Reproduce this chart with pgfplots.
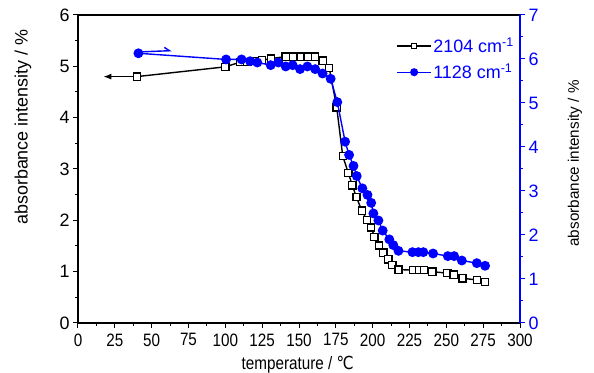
\documentclass[border=0pt]{standalone}
\usepackage{pgfplots}
\pgfplotsset{compat=1.18}
\usepackage{fontspec}
\setmainfont{Liberation Sans}
\newfontfamily\narrowfont{Liberation Sans}[FakeStretch=0.85]
\newfontfamily\dejavu{DejaVu Sans}[FakeStretch=0.85]
\usetikzlibrary{arrows.meta}

\pgfplotstableread{
T L
40 4.80
100 4.99
110 5.08
115 5.08
120 5.10
125 5.12
131 5.15
141 5.19
146 5.19
151 5.19
156 5.19
161 5.19
166 5.11
170.5 4.97
175.6 4.20
179.7 3.25
183.5 2.92
186.2 2.68
189 2.45
192.6 2.19
196 2.01
199 1.86
201.2 1.68
204.3 1.51
207.3 1.37
210.7 1.24
213.4 1.13
217.5 1.04
227.5 1.03
231.5 1.03
235 1.03
240.5 1.00
250.7 0.97
255 0.94
261 0.87
270.7 0.84
276.3 0.80
}\tabA

\pgfplotstableread{
T R
41 6.13
100.5 5.99
111 5.99
116.8 5.95
121.7 5.92
130.8 5.86
136 5.92
141 5.83
145.7 5.86
150.7 5.77
155.7 5.83
161 5.77
166 5.67
171.5 5.55
176 5.02
181.3 4.12
184 3.82
187 3.57
189.2 3.34
193 3.06
196.5 2.91
199 2.73
200.5 2.49
203.9 2.33
206.8 2.10
211.3 1.90
214 1.77
217.5 1.64
227 1.61
231 1.61
234.4 1.61
241 1.58
251 1.52
255.3 1.52
260.5 1.42
270.7 1.36
276.3 1.30
}\tabB

\pgfplotsset{
  common/.style={
    scale only axis, width=442bp, height=308bp,
    xmin=0, xmax=300,
    tick align=outside,
    major tick length=5bp, minor tick length=3bp,
    /pgf/number format/assume math mode=true,
    every tick/.style={line width=1bp},
    every minor tick/.style={line width=1bp},
  },
}

\begin{document}
\begin{tikzpicture}
\begin{axis}[
  common,
  ymin=0, ymax=6,
  xtick={0,25,...,300}, minor x tick num=1,
  ytick={0,1,...,6}, minor y tick num=1,
  xtick pos=bottom, ytick pos=left,
  axis line style={line width=1.2bp},
  x tick label style={font=\narrowfont\fontsize{18}{18}\selectfont, yshift=-2bp},
  y tick label style={font=\fontsize{18}{18}\selectfont},
  xlabel={temperature / {\dejavu ℃}},
  xlabel style={font=\narrowfont\fontsize{18}{18}\selectfont, at={(axis description cs:0.497,-0.107)}, anchor=north, inner sep=0pt},
  ylabel={absorbance intensity / \%},
  ylabel style={font=\fontsize{18}{18}\selectfont, at={(axis description cs:-0.1244,0.636)}, anchor=center, inner sep=0pt},
]
\coordinate (sw) at (rel axis cs:0,0);
\coordinate (ne) at (rel axis cs:1,1);
\addplot[black, line width=1.4bp, mark=square*, mark size=3.6bp,
  mark options={fill=white, draw=black, line width=1.3bp, solid}] table[x=T, y=L] {\tabA};
\addplot[black, line width=1.4bp, -{Latex[length=8bp,width=6bp]}] coordinates {(38,4.80) (17.2,4.80)};
\end{axis}
\begin{axis}[
  common,
  ymin=0, ymax=7,
  ytick={0,1,...,7}, minor y tick num=1,
  axis x line=none,
  axis y line*=right,
  y axis line style={blue, line width=1.2bp},
  y tick style={blue},
  y tick label style={font=\fontsize{18}{18}\selectfont, text=blue},
  ylabel={absorbance intensity / \%},
  ylabel style={font=\fontsize{15.3}{15.3}\selectfont, at={(axis description cs:1.1244,0.518)}, anchor=center, inner sep=0pt},
  legend style={at={(axis description cs:0.72,0.932)}, anchor=north west, draw=none, fill=none,
    font=\fontsize{18}{18}\selectfont, text=blue, inner sep=0pt, row sep=7bp,
    nodes={inner sep=1.5bp}},
  legend cell align=left,
  legend image code/.code={\draw[mark repeat=2, mark phase=2, #1] plot coordinates {(0bp,0bp) (17bp,0bp) (34bp,0bp)};},
]
\addlegendimage{black, line width=1.4bp, mark=square*, mark size=2.6bp, mark options={fill=white, draw=black, line width=1.2bp}}
\addlegendentry{2104 cm\textsuperscript{-1}}
\addlegendimage{blue, line width=1.4bp, mark=*, mark size=3.3bp, mark options={fill=blue, draw=blue}}
\addlegendentry{1128 cm\textsuperscript{-1}}
\addplot[blue, line width=1.4bp, mark=*, mark size=4.2bp,
  mark options={fill=blue, draw=blue}, forget plot] table[x=T, y=R] {\tabB};
\addplot[blue, line width=1.4bp, -{Straight Barb[harpoon, length=5bp, width=7bp]}, forget plot] coordinates {(41,6.16) (63.6,6.19)};
\end{axis}
\pgfresetboundingbox
\useasboundingbox ([shift={(-78bp,-50bp)}]sw) rectangle ([shift={(74bp,15bp)}]ne);
\end{tikzpicture}
\end{document}
